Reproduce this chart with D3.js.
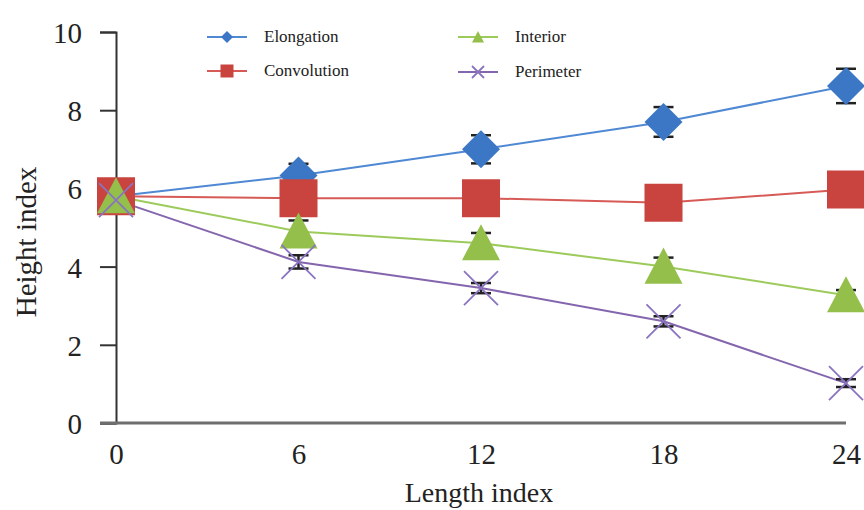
<!DOCTYPE html>
<html><head><meta charset="utf-8">
<script src="https://cdn.jsdelivr.net/npm/d3@7"></script>
<style>body{margin:0;background:#fff}svg{display:block}text{font-family:"Liberation Serif","Times New Roman",serif;fill:#222}</style>
</head><body><svg id="c" width="864" height="510"></svg>
<script>
const xValues = [0, 6, 12, 18, 24];
const xTicks = [0, 6, 12, 18, 24];
const yTicks = [0, 2, 4, 6, 8, 10];
const seriesNames = ["Elongation", "Convolution", "Interior", "Perimeter"];
const elongation = [5.8, 6.33, 7.0, 7.7, 8.62];
const elongationErr = [0.1, 0.3, 0.36, 0.38, 0.44];
const convolution = [5.8, 5.75, 5.75, 5.63, 5.97];
const convolutionErr = [0.1, 0.2, 0.2, 0.2, 0.2];
const interior = [5.8, 4.9, 4.6, 4.0, 3.27];
const interiorErr = [0.1, 0.28, 0.26, 0.23, 0.13];
const perimeter = [5.7, 4.12, 3.45, 2.6, 1.02];
const perimeterErr = [0.1, 0.17, 0.13, 0.13, 0.1];

const svg = d3.select("#c");
const x = d3.scaleLinear().domain([0, 24]).range([116, 846]);
const y = d3.scaleLinear().domain([0, 10]).range([423, 32]);

const series = [
  {name: seriesNames[0], vals: elongation, err: elongationErr, line: "#4f88d3", fill: "#3b77c5", shape: "diamond"},
  {name: seriesNames[1], vals: convolution, err: convolutionErr, line: "#d65a56", fill: "#c9433f", shape: "square"},
  {name: seriesNames[2], vals: interior, err: interiorErr, line: "#9ccb5c", fill: "#93bf4a", shape: "triangle"},
  {name: seriesNames[3], vals: perimeter, err: perimeterErr, line: "#8466ae", fill: "#8a74c0", shape: "x"}
];

function shapePath(shape, s) {
  const h = s / 2;
  if (shape === "diamond") return `M0,${-h}L${h},0L0,${h}L${-h},0Z`;
  if (shape === "square") return `M${-h},${-h}H${h}V${h}H${-h}Z`;
  if (shape === "triangle") return `M0,${-h}L${h},${h*0.9}L${-h},${h*0.9}Z`;
  return `M${-h},${-h}L${h},${h}M${h},${-h}L${-h},${h}`;
}
function drawMarker(g, shape, fill, s) {
  const p = g.append("path").attr("d", shapePath(shape, s));
  if (shape === "x") p.attr("fill", "none").attr("stroke", fill).attr("stroke-width", 1.8);
  else p.attr("fill", fill);
}

// axes
const yAxis = d3.axisLeft(y).tickValues(yTicks).tickSize(16).tickFormat(d3.format("d"));
const gy = svg.append("g").attr("transform", `translate(${x(0)},0)`).call(yAxis);
gy.select(".domain").attr("stroke", "#333").attr("stroke-width", 2);
gy.selectAll(".tick line").attr("stroke", "#333").attr("stroke-width", 2);
gy.selectAll(".tick text").attr("x", -34).attr("dy", "0.36em").style("font-size", "29px").attr("fill", "#222");

const xAxis = d3.axisBottom(x).tickValues(xTicks).tickSize(0).tickFormat(d3.format("d"));
const gx = svg.append("g").attr("transform", `translate(0,${y(0)})`).call(xAxis);
gx.select(".domain").remove();
gx.selectAll(".tick text").attr("y", 20).attr("dy", "0.71em").style("font-size", "29px").attr("fill", "#222");
svg.append("line").attr("x1", x(0) - 16).attr("x2", x(24)).attr("y1", y(0)).attr("y2", y(0))
  .attr("stroke", "#6e6e6e").attr("stroke-width", 3);

svg.append("text").attr("x", (x(0) + x(24)) / 2 - 2).attr("y", 502).attr("text-anchor", "middle")
  .style("font-size", "28px").text("Length index");
svg.append("text").attr("transform", `translate(36,242) rotate(-90)`)
  .attr("text-anchor", "middle").style("font-size", "29px").text("Height index");

// lines
const lineGen = d3.line().x((d, i) => x(xValues[i])).y(d => y(d));
series.forEach(s => {
  svg.append("path").datum(s.vals).attr("d", lineGen).attr("fill", "none")
    .attr("stroke", s.line).attr("stroke-width", 2);
});
// error bars
series.forEach(s => {
  s.vals.forEach((v, i) => {
    const g = svg.append("g").attr("stroke", "#222").attr("stroke-width", 2.5);
    const cx = x(xValues[i]);
    g.append("line").attr("x1", cx).attr("x2", cx).attr("y1", y(v - s.err[i])).attr("y2", y(v + s.err[i]));
    [v - s.err[i], v + s.err[i]].forEach(e => {
      g.append("line").attr("x1", cx - 10).attr("x2", cx + 10).attr("y1", y(e)).attr("y2", y(e));
    });
  });
});
// markers
series.forEach(s => {
  s.vals.forEach((v, i) => {
    const g = svg.append("g").attr("transform", `translate(${x(xValues[i])},${y(v)})`);
    drawMarker(g, s.shape, s.fill, s.shape === "x" ? 34 : 38);
  });
});

// legend
const legendPos = [[207, 37], [207, 71], [458, 37], [458, 72]];
series.forEach((s, i) => {
  const [lx, ly] = legendPos[i];
  svg.append("line").attr("x1", lx).attr("x2", lx + 40).attr("y1", ly).attr("y2", ly)
    .attr("stroke", s.line).attr("stroke-width", 2);
  const g = svg.append("g").attr("transform", `translate(${lx + 20},${ly})`);
  drawMarker(g, s.shape, s.fill, s.shape === "square" ? 13 : 12);
  svg.append("text").attr("x", lx + 57).attr("y", ly).attr("dy", "0.3em")
    .style("font-size", "17px").text(s.name);
});
</script></body></html>
